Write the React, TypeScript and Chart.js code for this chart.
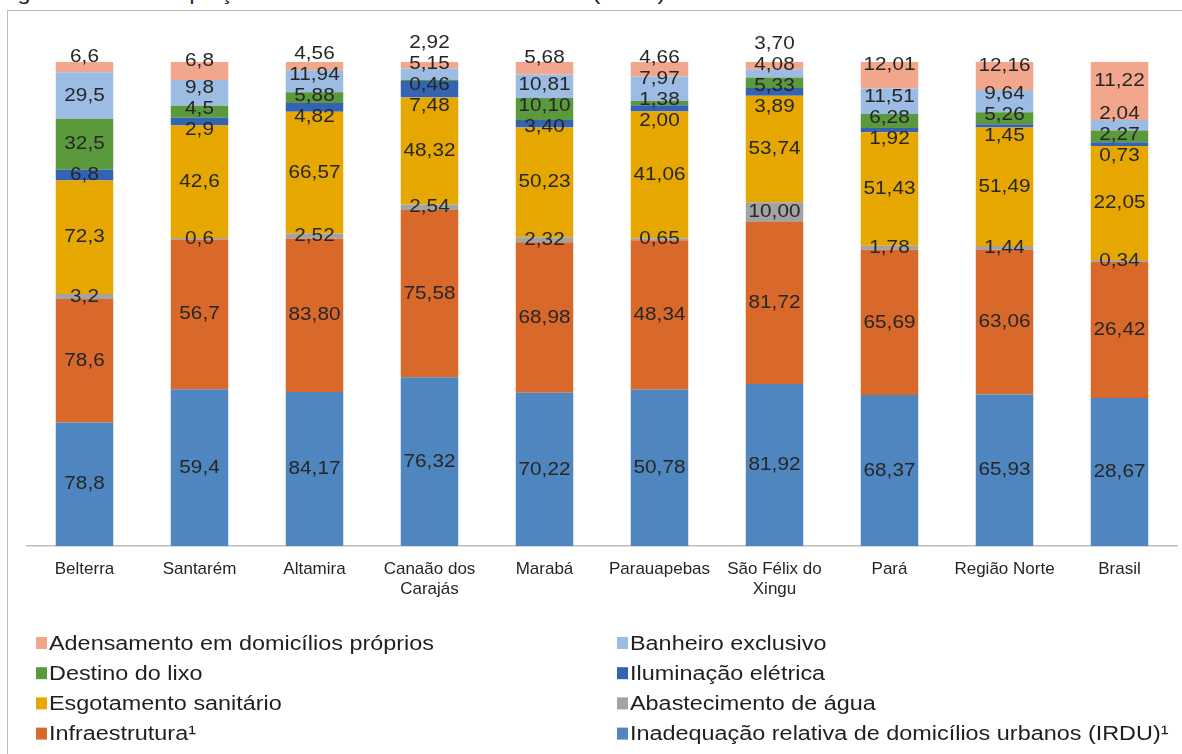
import React, { useEffect, useRef } from "react";
import { Chart, registerables } from "chart.js";

Chart.register(...registerables);

const categories: string[][] = [
  ["Belterra"],
  ["Santarém"],
  ["Altamira"],
  ["Canaão dos", "Carajás"],
  ["Marabá"],
  ["Parauapebas"],
  ["São Félix do", "Xingu"],
  ["Pará"],
  ["Região Norte"],
  ["Brasil"],
];

// decimals shown in the labels of each category
const decimals = [1, 1, 2, 2, 2, 2, 2, 2, 2, 2];

const irdu = [78.8, 59.4, 84.17, 76.32, 70.22, 50.78, 81.92, 68.37, 65.93, 28.67];
const infraestrutura = [78.6, 56.7, 83.8, 75.58, 68.98, 48.34, 81.72, 65.69, 63.06, 26.42];
const abastecimento = [3.2, 0.6, 2.52, 2.54, 2.32, 0.65, 10.0, 1.78, 1.44, 0.34];
const esgotamento = [72.3, 42.6, 66.57, 48.32, 50.23, 41.06, 53.74, 51.43, 51.49, 22.05];
const iluminacao = [6.8, 2.9, 4.82, 7.48, 3.4, 2.0, 3.89, 1.92, 1.45, 0.73];
const lixo = [32.5, 4.5, 5.88, 0.46, 10.1, 1.38, 5.33, 6.28, 5.26, 2.27];
const banheiro = [29.5, 9.8, 11.94, 5.15, 10.81, 7.97, 4.08, 11.51, 9.64, 2.04];
const adensamento = [6.6, 6.8, 4.56, 2.92, 5.68, 4.66, 3.7, 12.01, 12.16, 11.22];

const seriesNames = [
  "Inadequação relativa de domicílios urbanos (IRDU)¹",
  "Infraestrutura¹",
  "Abastecimento de água",
  "Esgotamento sanitário",
  "Iluminação elétrica",
  "Destino do lixo",
  "Banheiro exclusivo",
  "Adensamento em domicílios próprios",
];
const seriesValues = [irdu, infraestrutura, abastecimento, esgotamento, iluminacao, lixo, banheiro, adensamento];
const seriesColors = ["#4F86C0", "#D8692B", "#A3A3A3", "#E6A800", "#3563B4", "#5A9A3D", "#9DBCE3", "#F2A68C"];

const FONT = "'Liberation Sans', Arial, sans-serif";

const fmt = (v: number, d: number) => v.toFixed(d).replace(".", ",");

function stretchedText(ctx: CanvasRenderingContext2D, text: string, x: number, y: number, sx: number, align: CanvasTextAlign) {
  ctx.save();
  ctx.translate(x, y);
  ctx.scale(sx, 1);
  ctx.textAlign = align;
  ctx.textBaseline = "middle";
  ctx.fillText(text, 0, 0);
  ctx.restore();
}

const segLabels = {
  id: "segLabels",
  afterDatasetsDraw(chart: any) {
    const ctx: CanvasRenderingContext2D = chart.ctx;
    const n = chart.data.labels.length;
    const nd = chart.data.datasets.length;
    const S = 21;
    ctx.save();
    ctx.fillStyle = "#262626";
    ctx.font = `18.5px ${FONT}`;
    for (let i = 0; i < n; i++) {
      const items: any[] = [];
      for (let d = 0; d < nd; d++) {
        const el = chart.getDatasetMeta(d).data[i];
        const p = el.getProps(["x", "y", "base"], true);
        let want = (p.y + p.base) / 2;
        if (d === nd - 1) want -= 10;
        items.push({ x: p.x, want, text: fmt(seriesValues[d][i], decimals[i]) });
      }
      items.sort((a, b) => a.want - b.want);
      let groups: any[][] = items.map((it) => [it]);
      const center = (g: any[]) => g.reduce((s, it) => s + it.want, 0) / g.length;
      let merged = true;
      while (merged) {
        merged = false;
        for (let k = 0; k < groups.length - 1; k++) {
          const a = groups[k];
          const b = groups[k + 1];
          const aBottom = center(a) + ((a.length - 1) * S) / 2;
          const bTop = center(b) - ((b.length - 1) * S) / 2;
          if (bTop - aBottom < S) {
            groups.splice(k, 2, a.concat(b));
            merged = true;
            break;
          }
        }
      }
      groups.forEach((g) => {
        const c = center(g);
        g.forEach((it, k) => {
          const y = c - ((g.length - 1) * S) / 2 + k * S;
          stretchedText(ctx, it.text, it.x, y, 1.12, "center");
        });
      });
    }
    ctx.restore();
  },
};

const gridLegend = {
  id: "gridLegend",
  afterDraw(chart: any) {
    const ctx: CanvasRenderingContext2D = chart.ctx;
    const ds = [...chart.data.datasets].reverse();
    ctx.save();
    ctx.font = `20px ${FONT}`;
    ds.forEach((d: any, k: number) => {
      const col = k % 2;
      const row = Math.floor(k / 2);
      const x = col ? 617 : 36;
      const y = 643 + row * 30.2;
      ctx.fillStyle = d.backgroundColor;
      ctx.fillRect(x, y - 6, 11, 12);
      ctx.fillStyle = "#1f1f1f";
      stretchedText(ctx, d.label, x + 13, y + 1, 1.17, "left");
    });
    ctx.restore();
  },
};

export default function App() {
  const ref = useRef<HTMLCanvasElement | null>(null);

  useEffect(() => {
    if (!ref.current) return;
    const totals = categories.map((_, i) => seriesValues.reduce((s, arr) => s + arr[i], 0));
    const chart = new Chart(ref.current, {
      type: "bar",
      data: {
        labels: categories,
        datasets: seriesValues.map((vals, d) => ({
          label: seriesNames[d],
          data: vals.map((v, i) => (v / totals[i]) * 100),
          backgroundColor: seriesColors[d],
          borderWidth: 0,
          barPercentage: 0.5,
          categoryPercentage: 1,
        })),
      },
      options: {
        animation: false,
        responsive: true,
        maintainAspectRatio: false,
        layout: { padding: { left: 27, right: 5, top: 62, bottom: 141 } },
        plugins: {
          legend: { display: false },
          tooltip: { enabled: false },
          title: { display: false },
        },
        scales: {
          x: {
            stacked: true,
            grid: { display: false, drawTicks: false },
            border: { display: true, color: "#BDBDBD", width: 1.5 },
            ticks: {
              padding: 13,
              color: "#262626",
              font: { family: FONT, size: 17 },
              maxRotation: 0,
              autoSkip: false,
            },
          },
          y: {
            stacked: true,
            display: false,
            min: 0,
            max: 100,
          },
        },
      },
      plugins: [segLabels, gridLegend],
    });
    return () => chart.destroy();
  }, []);

  return (
    <div style={{ position: "fixed", left: 0, top: 0, width: 1182, height: 754, background: "#fff", overflow: "hidden" }}>
      <div
        style={{
          position: "absolute",
          left: -2,
          top: -19,
          fontFamily: FONT,
          fontSize: 20,
          lineHeight: "24px",
          color: "#1f1f1f",
          whiteSpace: "nowrap",
          transform: "scaleX(1.17)",
          transformOrigin: "left top",
        }}
      >
        Figura 12 – Inadequação relativa dos domicílios urbanos (IRDU)
      </div>
      <div
        style={{
          position: "absolute",
          left: 7,
          top: 10,
          width: 1300,
          height: 900,
          borderLeft: "1.5px solid #BDBDBD",
          borderTop: "1.5px solid #BDBDBD",
          pointerEvents: "none",
        }}
      />
      <canvas ref={ref} style={{ position: "absolute", left: 0, top: 0, width: 1182, height: 754 }} />
    </div>
  );
}
